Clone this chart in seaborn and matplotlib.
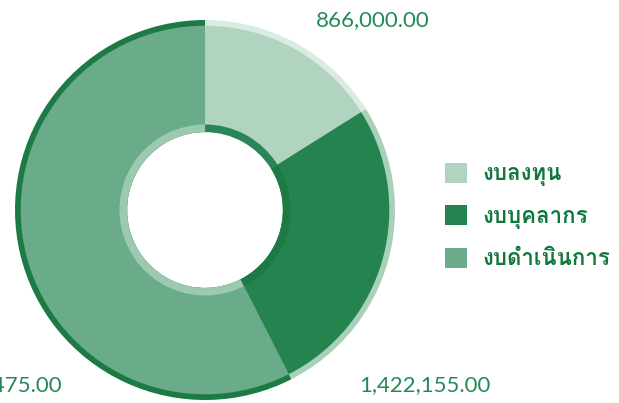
import matplotlib
matplotlib.use("Agg")
import matplotlib.pyplot as plt
import seaborn as sns
from matplotlib import font_manager
from matplotlib.ft2font import FT2Font
from matplotlib.patches import Patch

# ---- data ----
categories = ["งบลงทุน", "งบบุคลากร", "งบดำเนินการ"]
values = [866000.00, 1422155.00, 3096475.00]
value_labels = ["866,000.00", "1,422,155.00", "3,096,475.00"]
slice_colors = ["#b0d4c0", "#25834f", "#6aab8a"]
rim_colors = ["#d9ece1", "#a9d0b9", "#1d7a45"]
inner_rim_colors = ["#2a8656", "#1d7a45", "#9cc9af"]

sns.set_theme(style="white")

# find a font with Thai coverage
thai_fonts = []
seen = set()
for fe in font_manager.fontManager.ttflist:
    if fe.name in seen:
        continue
    try:
        f = FT2Font(fe.fname)
        if f.get_char_index(ord("ข")) != 0:
            thai_fonts.append(fe.name)
            seen.add(fe.name)
    except Exception:
        pass
thai_family = thai_fonts + ["DejaVu Sans"] if thai_fonts else ["DejaVu Sans"]

names = {fe.name for fe in font_manager.fontManager.ttflist}
num_family = ["Lato", "DejaVu Sans"] if "Lato" in names else ["DejaVu Sans"]

W, H = 619, 403
cx, cy, R = 205, 210, 190
fig = plt.figure(figsize=(W / 100, H / 100), dpi=100)
ax = fig.add_axes([0, 0, 1, 1])

# rim ring (shading)
ax.pie(values, radius=1.0, startangle=90, counterclock=False,
       colors=rim_colors, wedgeprops=dict(width=0.59, linewidth=0))
# main ring
ax.pie(values, radius=0.97, startangle=90, counterclock=False,
       colors=slice_colors, wedgeprops=dict(width=0.56, linewidth=0))
# inner rim shading
ax.pie(values, radius=0.45, startangle=90, counterclock=False,
       colors=inner_rim_colors, wedgeprops=dict(width=0.04, linewidth=0))
ax.set_xlim(-cx / R, (W - cx) / R)
ax.set_ylim(-(H - cy) / R, cy / R)
ax.set_aspect("equal")
ax.axis("off")

num_color = "#238a55"
ax.text((373 - cx) / R, (cy - 20) / R, value_labels[0], ha="center", va="center",
        fontsize=16, color=num_color, family=num_family, fontweight="normal")
ax.text((425 - cx) / R, (cy - 385) / R, value_labels[1], ha="center", va="center",
        fontsize=16, color=num_color, family=num_family, fontweight="normal")
ax.text((62 - cx) / R, (cy - 385) / R, value_labels[2], ha="right", va="center",
        fontsize=16, color=num_color, family=num_family, fontweight="normal")

handles = [Patch(facecolor=c, edgecolor="none") for c in slice_colors]
leg = fig.legend(handles, categories, loc="center left", bbox_to_anchor=(425 / W, 1 - 216 / H),
                 frameon=False, handlelength=1.0, handleheight=1.0, handletextpad=0.7,
                 labelspacing=0.85, prop=dict(family=thai_family, weight="bold", size=16))
for t in leg.get_texts():
    t.set_color("#11773c")

fig.savefig("out.png", dpi=100)
